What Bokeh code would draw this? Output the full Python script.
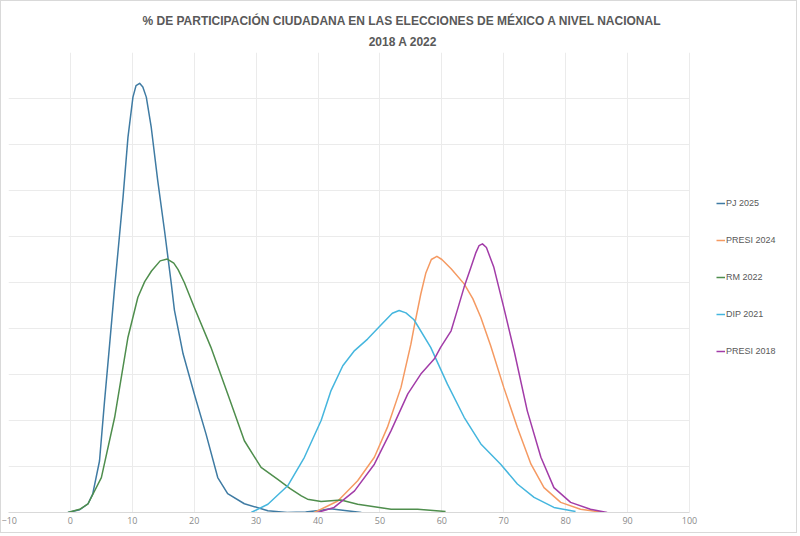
from bokeh.plotting import figure
from bokeh.models import Range1d, FixedTicker, Legend, LegendItem, Title
from bokeh.embed import file_html
from bokeh.resources import INLINE

# ---- data (y in density units, gridline step = 0.01) ----
pj2025_x = [-0.4, 1.5, 2.85, 3.6, 4.7, 5.5, 6.3, 7.15, 7.7, 8.5, 9.3, 10.1, 10.6, 11.18, 11.7,
            12.26, 13.06, 14.1, 15.2, 16.3, 16.8, 18.2, 20.0, 21.9, 23.8, 25.4, 28.1, 31.9,
            35.0, 38.0, 40.5, 42.0, 44.0, 47.0]
pj2025_y = [0.0, 0.0006, 0.0019, 0.004, 0.0112, 0.024, 0.036, 0.049, 0.0569, 0.0685, 0.0816,
            0.0903, 0.0928, 0.0933, 0.0925, 0.0903, 0.0837, 0.0722, 0.0613, 0.0497, 0.044,
            0.0345, 0.0258, 0.0171, 0.0076, 0.0041, 0.0019, 0.0004, 0.0, 0.0001, 0.0005,
            0.0008, 0.0005, 0.0]

presi2024_x = [39.4, 43.2, 46.4, 49.1, 51.2, 53.4, 55.0, 55.5, 56.6, 57.4, 58.3, 59.2, 60.0,
               61.5, 63.6, 65.0, 66.3, 67.9, 70.0, 72.2, 74.4, 76.5, 79.2, 82.4, 86.2]
presi2024_y = [0.0, 0.0025, 0.0069, 0.012, 0.0185, 0.0272, 0.0366, 0.0402, 0.0475, 0.052,
               0.055, 0.0557, 0.055, 0.053, 0.0497, 0.0465, 0.0424, 0.0362, 0.0272, 0.0185,
               0.0105, 0.0054, 0.0022, 0.0007, 0.0]

rm2022_x = [-0.4, 1.5, 2.85, 5.0, 7.15, 9.3, 10.9, 12.0, 13.1, 14.5, 15.65, 16.7, 17.4, 18.4,
            20.0, 22.7, 25.4, 28.1, 30.8, 33.5, 35.5, 37.3, 38.3, 40.5, 43.7, 46.4, 51.8,
            56.1, 60.6]
rm2022_y = [0.0, 0.0007, 0.0019, 0.0076, 0.0207, 0.0381, 0.0468, 0.0502, 0.0525, 0.0547,
            0.0551, 0.0542, 0.0528, 0.050, 0.0446, 0.0359, 0.0258, 0.0156, 0.0098, 0.0072,
            0.0052, 0.0036, 0.0029, 0.0024, 0.0027, 0.0018, 0.0007, 0.0007, 0.0002]

dip2021_x = [29.2, 31.9, 35.1, 37.8, 40.5, 42.1, 44.0, 45.9, 48.0, 50.2, 52.0, 53.1, 54.2,
             55.5, 58.2, 60.9, 63.6, 66.3, 69.5, 72.2, 74.9, 78.1, 81.6]
dip2021_y = [0.0, 0.0018, 0.0058, 0.012, 0.020, 0.0265, 0.0319, 0.0352, 0.0377, 0.0408,
             0.0433, 0.0439, 0.0434, 0.0419, 0.0359, 0.0279, 0.0207, 0.0149, 0.0105, 0.0062,
             0.0033, 0.0011, 0.0002]

presi2018_x = [39.9, 42.6, 45.9, 49.1, 51.8, 54.5, 56.6, 58.8, 59.8, 61.5, 62.5, 63.6, 64.7,
               65.5, 66.0, 66.56, 67.2, 68.4, 70.0, 71.7, 73.8, 76.0, 78.1, 80.8, 84.0, 86.7]
presi2018_y = [0.0, 0.0011, 0.0047, 0.0105, 0.0178, 0.0258, 0.0301, 0.0334, 0.0359, 0.0395,
               0.044, 0.049, 0.0533, 0.0565, 0.058, 0.0584, 0.0576, 0.0533, 0.0446, 0.035,
               0.0221, 0.012, 0.0054, 0.0022, 0.0007, 0.0]

series_names = ["PJ 2025", "PRESI 2024", "RM 2022", "DIP 2021", "PRESI 2018"]
series_colors = ["#3f7ba3", "#f59a62", "#4f8e4d", "#45b6de", "#a23ca8"]

x_ticks = [-10, 0, 10, 20, 30, 40, 50, 60, 70, 80, 90, 100]
y_grid = [0.0, 0.01, 0.02, 0.03, 0.04, 0.05, 0.06, 0.07, 0.08, 0.09, 0.10]

title_line1 = "% DE PARTICIPACIÓN CIUDADANA EN LAS ELECCIONES DE MÉXICO A NIVEL NACIONAL"
title_line2 = "2018 A 2022"

# ---- figure ----
p = figure(width=797, height=533, output_backend="svg", toolbar_location=None,
           x_range=Range1d(-10, 117.45), y_range=Range1d(0, 0.10),
           y_axis_location=None,
           min_border_left=7, min_border_right=1, min_border_top=51, min_border_bottom=22)
p.outline_line_color = None
p.background_fill_color = "white"
p.border_fill_color = "white"
p.styles = {"border": "1px solid #d9d9d9"}

p.xaxis.ticker = FixedTicker(ticks=x_ticks)
p.xaxis.bounds = (-10, 100)
p.xaxis.axis_line_color = "#d9d9d9"
p.xaxis.major_tick_line_color = None
p.xaxis.minor_tick_line_color = None
p.xaxis.major_tick_out = 0
p.xaxis.major_tick_in = 0
p.xaxis.minor_tick_out = 0
p.xaxis.major_label_text_color = "#8a8a8a"
p.xaxis.major_label_text_font = "Open Sans"
p.xaxis.major_label_text_font_size = "9px"
p.xaxis.major_label_standoff = 4

p.xgrid.ticker = FixedTicker(ticks=x_ticks)
p.ygrid.ticker = FixedTicker(ticks=y_grid)
p.ygrid.cross_bounds = (-10, 100)
p.xgrid.grid_line_color = "#ebebeb"
p.ygrid.grid_line_color = "#ebebeb"

t2 = Title(text=title_line2, align="center", text_font="Liberation Sans",
           text_font_style="bold", text_font_size="12px", text_color="#595959", standoff=7)
t1 = Title(text=title_line1, align="left", offset=134, text_font="Liberation Sans",
           text_font_style="bold", text_font_size="12px", text_color="#595959", standoff=4)
p.add_layout(t2, "above")
p.add_layout(t1, "above")

xs = [pj2025_x, presi2024_x, rm2022_x, dip2021_x, presi2018_x]
ys = [pj2025_y, presi2024_y, rm2022_y, dip2021_y, presi2018_y]
renderers = []
for x, y, c in zip(xs, ys, series_colors):
    r = p.line(x, y, line_color=c, line_width=1.5, line_join="round")
    renderers.append(r)

legend = Legend(items=[LegendItem(label=n, renderers=[r]) for n, r in zip(series_names, renderers)],
                location=(708, 151), margin=0, padding=2, spacing=17,
                glyph_width=9, glyph_height=20, label_height=20, label_standoff=1,
                label_text_font="Liberation Sans", label_text_font_size="9px",
                label_text_color="#595959", border_line_color=None,
                background_fill_alpha=0)
p.add_layout(legend, "center")

open("out.html", "w").write(file_html(p, INLINE))
